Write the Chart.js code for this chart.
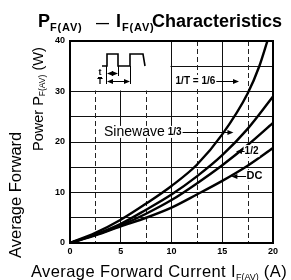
<!DOCTYPE html>
<html>
<head>
<meta charset="utf-8">
<script src="https://cdn.jsdelivr.net/npm/chart.js@4.4.1/dist/chart.umd.min.js"></script>
<style>
  html, body { margin: 0; padding: 0; background: #fff; }
  #wrap { position: relative; width: 291px; height: 280px; overflow: hidden;
          font-family: "Liberation Sans", Arial, Helvetica, sans-serif; color: #000; }
  canvas { position: absolute; left: 0; top: 0; }
  .t { position: absolute; white-space: nowrap; }
  .title { font-weight: bold; font-size: 18px; line-height: 20px; top: 11px; }
  .tsub { font-weight: bold; font-size: 11px; line-height: 12px; top: 21px; letter-spacing: 0.8px; }
  .axt { font-size: 16.5px; line-height: 16px; letter-spacing: 0.4px; }
  .axt sub { font-size: 9px; vertical-align: -3px; letter-spacing: 0; }
  .rot { transform: rotate(-90deg); transform-origin: left top; letter-spacing: 0; }
  .rot2 { font-size: 14.5px; line-height: 14px; }
  .rot2 sub { font-size: 8.5px; vertical-align: -2px; }
</style>
</head>
<body>
<div id="wrap">
  <canvas id="grafico" width="291" height="280"></canvas>

  <span class="t title" style="left:38px">P</span>
  <span class="t tsub" style="left:50px">F(AV)</span>
  <span class="t title" style="left:96px;font-size:13px;top:13px">—</span>
  <span class="t title" style="left:116px">I</span>
  <span class="t tsub" style="left:122px">F(AV)</span>
  <span class="t title" style="left:152px">Characteristics</span>

  <div class="t axt" style="left:31px;top:263px">Average Forward Current I<sub>F(AV)</sub> (A)</div>
  <div class="t axt rot" style="left:7px;top:258px">Average Forward</div>
  <div class="t axt rot rot2" style="left:31px;top:151px">Power P<sub>F(AV)</sub> (W)</div>
</div>

<script>
// corriente media (A) en los puntos leidos
const corriente = [0, 2.5, 5, 7.5, 10, 12.5, 15, 17.5, 20];
const potenciaDC = [0, 1.5, 3.3, 5.0, 7.0, 9.6, 12.3, 15.3, 18.8];
const potenciaMedio = [0, 1.6, 3.5, 5.8, 8.5, 11.8, 15.4, 19.4, 23.8];
const potenciaTercio = [0, 1.7, 3.8, 6.6, 9.6, 13.2, 17.4, 22.6, 29.0];
// la curva 1/6 sale por arriba antes de 20 A
const corrienteSexto = [0, 2.5, 5, 7.5, 10, 12.5, 15, 17.5, 18.65, 19.45];
const potenciaSexto = [0, 2.0, 4.6, 7.8, 11.3, 15.5, 21.5, 29.6, 35.0, 40.0];

const ticksX = [0, 5, 10, 15, 20];
const ticksY = [0, 10, 20, 30, 40];

function puntos(xs, ys) {
  return xs.map((x, i) => ({ x: x, y: ys[i] }));
}

function curva(xs, ys) {
  return {
    data: puntos(xs, ys),
    borderColor: "#000",
    borderWidth: 2.4,
    pointRadius: 0,
    cubicInterpolationMode: "monotone",
    fill: false
  };
}

function flecha(ctx, x1, y, x2) {
  const dir = x2 > x1 ? 1 : -1;
  ctx.beginPath();
  ctx.moveTo(x1, y);
  ctx.lineTo(x2 - dir * 4, y);
  ctx.stroke();
  ctx.beginPath();
  ctx.moveTo(x2, y);
  ctx.lineTo(x2 - dir * 6, y - 2.5);
  ctx.lineTo(x2 - dir * 6, y + 2.5);
  ctx.closePath();
  ctx.fill();
}

function etiqueta(ctx, texto, x, y, font) {
  ctx.font = font;
  const w = ctx.measureText(texto).width;
  ctx.fillStyle = "#fff";
  ctx.fillRect(x - 1, y - 6, w + 2, 12);
  ctx.fillStyle = "#000";
  ctx.fillText(texto, x, y);
  return x + w;
}

const fondoGrafico = {
  id: "fondoGrafico",
  beforeDatasetsDraw(chart) {
    const { ctx, chartArea, scales } = chart;
    const sx = scales.x;
    const sy = scales.y;
    ctx.save();
    // lineas verticales intermedias punteadas
    ctx.strokeStyle = "#222";
    ctx.lineWidth = 1;
    ctx.setLineDash([5, 3]);
    sx.ticks.forEach((t) => {
      if (ticksX.includes(t.value)) return;
      const px = Math.round(sx.getPixelForValue(t.value)) + 0.5;
      ctx.beginPath();
      ctx.moveTo(px, chartArea.top);
      ctx.lineTo(px, chartArea.bottom);
      ctx.stroke();
    });
    ctx.setLineDash([]);
    // recuadro del diagrama de onda sin rejilla
    const x0 = chartArea.left + 1;
    const x1 = sx.getPixelForValue(10) - 1;
    const y0 = chartArea.top + 1;
    const y1 = sy.getPixelForValue(30) - 1;
    ctx.fillStyle = "#fff";
    ctx.fillRect(x0, y0, x1 - x0, y1 - y0);
    ctx.restore();
  },
  afterDraw(chart) {
    const { ctx, chartArea, scales } = chart;
    const sx = scales.x;
    const sy = scales.y;
    ctx.save();
    ctx.strokeStyle = "#000";
    ctx.fillStyle = "#000";
    ctx.lineWidth = 2;
    ctx.strokeRect(chartArea.left, chartArea.top, chartArea.right - chartArea.left, chartArea.bottom - chartArea.top);

    // diagrama de pulsos
    const L = chartArea.left;
    const T = chartArea.top;
    ctx.lineWidth = 1.6;
    ctx.beginPath();
    ctx.moveTo(L + 32, T + 25);
    ctx.lineTo(L + 37, T + 25);
    ctx.lineTo(L + 37, T + 13);
    ctx.lineTo(L + 48, T + 13);
    ctx.lineTo(L + 48, T + 25);
    ctx.lineTo(L + 60, T + 25);
    ctx.lineTo(L + 60, T + 13);
    ctx.lineTo(L + 73, T + 13);
    ctx.lineTo(L + 75, T + 25);
    ctx.stroke();
    ctx.lineWidth = 1;
    ctx.beginPath();
    ctx.moveTo(L + 36.5, T + 25); ctx.lineTo(L + 36.5, T + 43);
    ctx.moveTo(L + 48.5, T + 25); ctx.lineTo(L + 48.5, T + 35);
    ctx.moveTo(L + 60.5, T + 25); ctx.lineTo(L + 60.5, T + 43);
    ctx.moveTo(L + 28, T + 36.5); ctx.lineTo(L + 32, T + 36.5);
    ctx.stroke();
    flecha(ctx, L + 42, T + 32.5, L + 48);
    flecha(ctx, L + 42, T + 32.5, L + 37);
    flecha(ctx, L + 48, T + 40.5, L + 60);
    flecha(ctx, L + 48, T + 40.5, L + 37);
    ctx.font = "bold 9px 'Liberation Sans', Arial";
    ctx.textAlign = "center";
    ctx.textBaseline = "middle";
    ctx.fillText("t", L + 30, T + 32);
    ctx.fillText("T", L + 30, T + 41);

    // etiquetas de las curvas
    ctx.textAlign = "left";
    ctx.lineWidth = 1;
    let y = sy.getPixelForValue(32.1);
    let fin = etiqueta(ctx, "1/T = 1/6", sx.getPixelForValue(10.4), y, "bold 10px 'Liberation Sans', Arial");
    flecha(ctx, fin + 1, Math.round(y) + 0.5, sx.getPixelForValue(16.65));

    y = sy.getPixelForValue(22);
    fin = etiqueta(ctx, "Sinewave", sx.getPixelForValue(3.35), y, "14px 'Liberation Sans', Arial");
    fin = etiqueta(ctx, "1/3", fin + 3, y, "bold 10px 'Liberation Sans', Arial");
    flecha(ctx, fin + 1, Math.round(y) + 0.5, sx.getPixelForValue(16.1));

    y = sy.getPixelForValue(18.2);
    etiqueta(ctx, "1/2", sx.getPixelForValue(17.2), y, "bold 10px 'Liberation Sans', Arial");
    flecha(ctx, sx.getPixelForValue(17.2), Math.round(y) + 0.5, sx.getPixelForValue(16.35));

    y = sy.getPixelForValue(13.3);
    etiqueta(ctx, "DC", sx.getPixelForValue(17.4), y, "bold 11px 'Liberation Sans', Arial");
    flecha(ctx, sx.getPixelForValue(17.35), Math.round(y) + 0.5, sx.getPixelForValue(15.9));
    ctx.restore();
  }
};

const fuenteTicks = { family: "'Liberation Sans', Arial", size: 9, weight: "bold" };

new Chart(document.getElementById("grafico"), {
  type: "line",
  data: {
    datasets: [
      curva(corrienteSexto, potenciaSexto),
      curva(corriente, potenciaTercio),
      curva(corriente, potenciaMedio),
      curva(corriente, potenciaDC)
    ]
  },
  options: {
    responsive: false,
    animation: false,
    devicePixelRatio: 1,
    layout: { padding: { top: 41, right: 18, left: 0, bottom: 0 } },
    plugins: { legend: { display: false }, tooltip: { enabled: false } },
    scales: {
      x: {
        type: "linear",
        min: 0,
        max: 20,
        afterFit: (s) => { s.height = 37; },
        ticks: {
          stepSize: 2.5,
          autoSkip: false,
          maxRotation: 0,
          padding: 3,
          color: "#000",
          font: fuenteTicks,
          callback: (v) => (ticksX.includes(v) ? v : "")
        },
        grid: {
          drawTicks: false,
          lineWidth: 1,
          color: (c) => (c.tick && ticksX.includes(c.tick.value) ? "#111" : "rgba(0,0,0,0)")
        },
        border: { color: "#000", width: 2 }
      },
      y: {
        min: 0,
        max: 40,
        afterFit: (s) => { s.width = 70; },
        ticks: {
          stepSize: 5,
          autoSkip: false,
          padding: 5,
          color: "#000",
          font: fuenteTicks,
          callback: (v) => (ticksY.includes(v) ? v : "")
        },
        grid: { drawTicks: false, lineWidth: 1, color: "#111" },
        border: { color: "#000", width: 2 }
      }
    }
  },
  plugins: [fondoGrafico]
});
</script>
</body>
</html>
